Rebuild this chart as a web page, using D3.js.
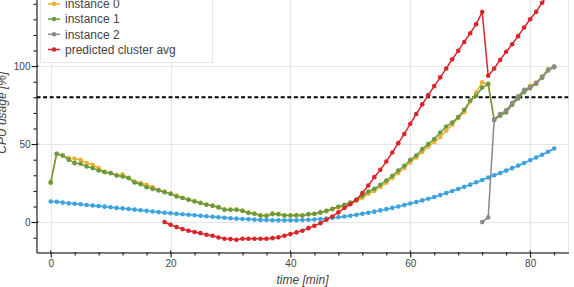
<!DOCTYPE html>
<html>
<head>
<meta charset="utf-8">
<script src="https://cdn.jsdelivr.net/npm/d3@7"></script>
<style>
  html, body { margin: 0; padding: 0; background: #fff; }
  svg { display: block; font-family: "Liberation Sans", Arial, Helvetica, sans-serif; }
</style>
</head>
<body>
<svg id="chart" width="574" height="287"></svg>
<script>
// ---------------- data ----------------
const seriesNames = ["cluster avg", "instance 0", "instance 1", "instance 2", "predicted cluster avg"];
const seriesColors = ["#3ba3e0", "#edb034", "#6a9a3e", "#8a8a8a", "#d9252a"];

const clusterAvgT = d3.range(0, 85);
const clusterAvg = [13.2, 13.0, 12.5, 12.0, 11.8, 11.4, 11.0, 10.6, 10.3, 9.9,
  9.5, 9.1, 8.8, 8.4, 8.0, 7.6, 7.2, 6.8, 6.4, 6.0,
  5.7, 5.3, 5.0, 4.7, 4.4, 4.0, 3.7, 3.4, 3.1, 2.8,
  2.5, 2.2, 2.0, 1.8, 1.6, 1.4, 1.3, 1.2, 1.1, 1.1,
  1.1, 1.2, 1.3, 1.5, 1.7, 2.0, 2.3, 2.7, 3.1, 3.6,
  4.1, 4.7, 5.3, 6.0, 6.7, 7.5, 8.3, 9.1, 10.0, 10.9,
  11.9, 12.9, 13.9, 15.0, 16.1, 17.3, 18.6, 19.9, 21.2, 22.6,
  24.0, 25.5, 27.0, 28.6, 30.0, 31.5, 33.0, 34.6, 36.2, 37.9,
  39.6, 41.4, 43.2, 45.1, 47.2];

const instance0T = d3.range(0, 85);
const instance0 = [25.0, 43.8, 42.7, 41.0, 40.6, 39.9, 37.8, 36.7, 34.6, 32.3,
  31.4, 30.0, 30.7, 28.4, 26.0, 25.0, 23.9, 22.4, 20.6, 19.5,
  18.3, 17.0, 15.6, 14.5, 13.5, 12.4, 11.2, 10.6, 9.6, 8.3,
  8.0, 8.0, 7.3, 6.2, 5.5, 4.4, 4.2, 5.6, 5.1, 4.4,
  4.4, 4.5, 4.4, 5.0, 5.2, 6.0, 7.0, 8.2, 9.4, 10.6,
  12.0, 13.5, 15.6, 18.2, 20.0, 22.5, 25.2, 28.3, 31.5, 34.6,
  38.3, 41.4, 45.0, 48.4, 51.3, 54.5, 58.5, 62.4, 66.7, 70.5,
  77.3, 83.0, 89.7, 88.2, 65.3, 68.9, 71.8, 75.5, 80.0, 84.0,
  87.4, 89.5, 93.5, 98.0, 99.7];

const instance1T = d3.range(0, 85);
const instance1 = [25.6, 43.8, 42.7, 40.0, 37.8, 37.4, 35.6, 34.6, 33.1, 32.0,
  31.4, 29.9, 29.2, 28.2, 25.4, 24.3, 22.4, 21.3, 20.3, 19.2,
  18.1, 16.4, 15.4, 14.3, 13.2, 12.2, 11.1, 10.4, 9.4, 7.9,
  7.9, 7.9, 7.2, 5.8, 5.3, 4.2, 4.0, 5.1, 5.1, 4.2,
  4.2, 4.2, 4.2, 5.1, 5.3, 6.2, 7.2, 8.5, 9.8, 11.1,
  12.5, 14.3, 16.9, 19.6, 21.3, 23.9, 26.7, 29.7, 33.1, 36.1,
  39.9, 42.7, 46.8, 50.0, 53.2, 57.4, 61.3, 63.8, 67.3, 72.0,
  78.0, 81.0, 86.3, 88.6, 65.6, 68.2, 70.3, 75.2, 79.2, 83.4,
  85.9, 88.7, 92.5, 97.2, 99.3];

const instance2T = d3.range(72, 85);
const instance2 = [0.0, 3.0, 65.8, 69.3, 71.5, 76.3, 80.6, 84.8, 86.5, 89.1, 93.0, 97.6, 99.7];

const predictedT = d3.range(19, 85);
const predicted = [0.0, -1.7, -3.2, -4.5, -5.6, -6.4, -7.1, -8.1, -8.8, -9.9,
  -10.7, -10.9, -11.3, -10.7, -10.7, -10.7, -10.7, -10.7, -10.3, -9.8,
  -8.8, -7.7, -6.6, -5.6, -3.9, -2.4, -0.7, 1.5, 3.6, 6.2,
  9.0, 11.5, 14.3, 18.6, 23.5, 28.8, 33.5, 38.8, 44.6, 50.6,
  56.4, 63.0, 69.3, 75.5, 81.4, 87.2, 92.8, 98.5, 104.4, 109.8,
  115.5, 121.1, 126.9, 134.7, 93.8, 98.5, 104.0, 109.2, 114.0, 119.2,
  124.8, 130.0, 134.8, 140.6, 146.0, 151.5];

const thresholdValue = 80;
const xTicks = [0, 20, 40, 60, 80];
const xMinorTicks = [4, 8, 12, 16, 24, 28, 32, 36, 44, 48, 52, 56, 64, 68, 72, 76, 84];
const yTicks = [0, 50, 100, 150];
const yMinorTicks = [-10, 10, 20, 30, 40, 60, 70, 80, 90, 110, 120, 130, 140];
const xLabel = "time [min]";
const yLabel = "CPU usage [%]";

// ---------------- layout ----------------
const svg = d3.select("#chart");
const L = 36.5, R = 568.5, T = -27, B = 252.5;

const x = d3.scaleLinear().domain([-2.37, 86.4]).range([L, R]);
const y = d3.scaleLinear().domain([-19.5, 159.7]).range([B, T]);

svg.append("defs").append("clipPath").attr("id", "clip")
  .append("rect").attr("x", L).attr("y", T).attr("width", R - L).attr("height", B - T);

// frame outline
svg.append("rect").attr("x", L).attr("y", T).attr("width", R - L).attr("height", B - T)
  .attr("fill", "none").attr("stroke", "#e5e5e5");

// grid
const grid = svg.append("g");
grid.selectAll(".vg").data(xTicks).join("line")
  .attr("x1", d => Math.round(x(d)) + 0.5).attr("x2", d => Math.round(x(d)) + 0.5)
  .attr("y1", T).attr("y2", B).attr("stroke", "#e5e5e5");
grid.selectAll(".hg").data(yTicks).join("line")
  .attr("y1", d => Math.round(y(d)) + 0.5).attr("y2", d => Math.round(y(d)) + 0.5)
  .attr("x1", L).attr("x2", R).attr("stroke", "#e5e5e5");

const plot = svg.append("g").attr("clip-path", "url(#clip)");

// threshold
plot.append("line")
  .attr("x1", L).attr("x2", R)
  .attr("y1", y(thresholdValue)).attr("y2", y(thresholdValue))
  .attr("stroke", "#000").attr("stroke-width", 2).attr("stroke-dasharray", "4,2.6");

const series = [
  [clusterAvgT, clusterAvg],
  [instance0T, instance0],
  [instance1T, instance1],
  [instance2T, instance2],
  [predictedT, predicted]
];

const line = d3.line().x(d => x(d[0])).y(d => y(d[1]));
series.forEach(([ts, vs], i) => {
  const pts = ts.map((t, j) => [t, vs[j]]);
  const g = plot.append("g");
  g.append("path").datum(pts).attr("d", line)
    .attr("fill", "none").attr("stroke", seriesColors[i]).attr("stroke-width", 1.5);
  g.selectAll("circle").data(pts).join("circle")
    .attr("cx", d => x(d[0])).attr("cy", d => y(d[1])).attr("r", 2.3)
    .attr("fill", seriesColors[i]);
});

// axes
const axisColor = "#000";
const xAxis = svg.append("g").attr("transform", `translate(0,${B})`)
  .call(d3.axisBottom(x).tickValues(xTicks).tickSize(5).tickSizeOuter(0).tickPadding(2));
svg.append("g").attr("transform", `translate(0,${B})`)
  .call(d3.axisBottom(x).tickValues(xMinorTicks).tickSize(3).tickFormat("").tickSizeOuter(0))
  .call(g => g.select(".domain").remove());
// inward major ticks
svg.append("g").selectAll("line").data(xTicks).join("line")
  .attr("x1", d => x(d)).attr("x2", d => x(d)).attr("y1", B).attr("y2", B - 2)
  .attr("stroke", axisColor);

const yAxis = svg.append("g").attr("transform", `translate(${L},0)`)
  .call(d3.axisLeft(y).tickValues(yTicks).tickSize(5).tickSizeOuter(0).tickPadding(1));
svg.append("g").attr("transform", `translate(${L},0)`)
  .call(d3.axisLeft(y).tickValues(yMinorTicks).tickSize(3).tickFormat("").tickSizeOuter(0))
  .call(g => g.select(".domain").remove());
svg.append("g").selectAll("line").data(yTicks).join("line")
  .attr("y1", d => y(d)).attr("y2", d => y(d)).attr("x1", L).attr("x2", L + 2)
  .attr("stroke", axisColor);

svg.selectAll(".domain").attr("stroke", axisColor);
svg.selectAll(".tick line").attr("stroke", axisColor);
svg.selectAll(".tick text").attr("fill", "#444").attr("font-size", "10px")
  .attr("font-family", "'Liberation Sans', Arial, Helvetica, sans-serif");

// axis labels
svg.append("text").attr("x", (L + R) / 2).attr("y", 283.5)
  .attr("text-anchor", "middle").attr("font-size", "12px").attr("font-style", "italic")
  .attr("fill", "#444").text(xLabel);
svg.append("text").attr("transform", `translate(6,${(T + B) / 2}) rotate(-90)`)
  .attr("text-anchor", "middle").attr("font-size", "12px").attr("font-style", "italic")
  .attr("fill", "#444").text(yLabel);

// legend
const legX = 40.5, legTop = -25.5, legBottom = 62.5, legW = 172, rowH = 15.2, firstRow = -11.3;
const leg = svg.append("g");
leg.append("rect").attr("x", legX).attr("y", legTop).attr("width", legW).attr("height", legBottom - legTop)
  .attr("fill", "#fff").attr("fill-opacity", 0.95).attr("stroke", "#e5e5e5");
seriesNames.forEach((name, i) => {
  const cy = firstRow + i * rowH;
  leg.append("line").attr("x1", 48).attr("x2", 60).attr("y1", cy).attr("y2", cy)
    .attr("stroke", seriesColors[i]).attr("stroke-width", 1.5);
  leg.append("circle").attr("cx", 54).attr("cy", cy).attr("r", 2.3).attr("fill", seriesColors[i]);
  leg.append("text").attr("x", 65).attr("y", cy).attr("dy", "0.36em")
    .attr("font-size", "12px").attr("fill", "#444").text(name);
});
</script>
</body>
</html>
